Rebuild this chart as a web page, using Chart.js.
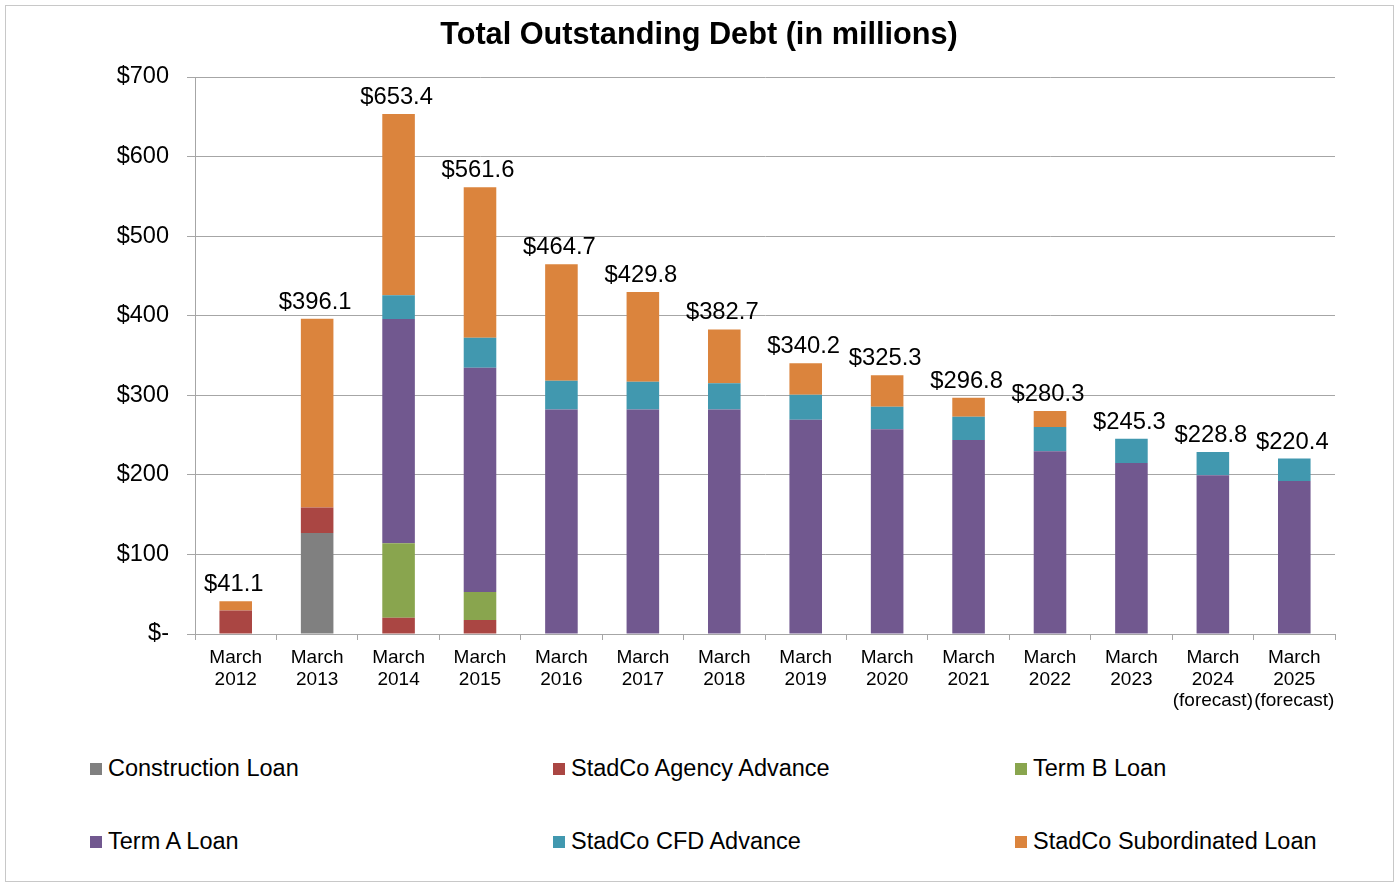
<!DOCTYPE html>
<html>
<head>
    <title>Total Outstanding Debt</title>
    <script src="https://cdn.jsdelivr.net/npm/chart.js@4.4.1/dist/chart.umd.min.js"></script>
    <style>
        body { margin: 0; background: #fff; font-family: "Liberation Sans", Arial, sans-serif; }
        #frame { position: absolute; left: 5px; top: 5px; width: 1387px; height: 875px; border: 1px solid #c8c8c8; }
        #wrap { position: absolute; left: 0; top: 0; width: 1398px; height: 720px; }
        .leg { position: absolute; font-size: 23.5px; color: #000; white-space: nowrap; line-height: 26px; }
        .leg span { display: inline-block; width: 12px; height: 12px; margin-right: 6px; vertical-align: 1px; }
    </style>
</head>
<body>
    <div id="frame"></div>
    <div id="wrap"><canvas id="debtChart"></canvas></div>
    <div id="legend"></div>

    <script>
        // categories
        var years = ['2012', '2013', '2014', '2015', '2016', '2017', '2018', '2019',
                     '2020', '2021', '2022', '2023', '2024', '2025'];
        var forecast = [false, false, false, false, false, false, false, false,
                        false, false, false, false, true, true];

        // series values ($ millions)
        var constructionLoan = [0, 127.0, 0, 0, 0, 0, 0, 0, 0, 0, 0, 0, 0, 0];
        var agencyAdvance    = [29.5, 32.0, 20.5, 17.6, 0, 0, 0, 0, 0, 0, 0, 0, 0, 0];
        var termBLoan        = [0, 0, 93.5, 35.2, 0, 0, 0, 0, 0, 0, 0, 0, 0, 0];
        var termALoan        = [0, 0, 282.0, 281.9, 282.0, 282.0, 282.0, 269.3, 257.2, 243.8, 229.6, 214.9, 199.4, 192.3];
        var cfdAdvance       = [0, 0, 29.7, 37.7, 36.4, 35.1, 33.0, 31.5, 28.5, 29.3, 30.5, 30.4, 29.4, 28.1];
        var subordinatedLoan = [11.6, 237.1, 227.7, 189.2, 146.3, 112.7, 67.7, 39.4, 39.6, 23.7, 20.2, 0, 0, 0];

        // printed totals above each bar
        var totals = [41.1, 396.1, 653.4, 561.6, 464.7, 429.8, 382.7, 340.2, 325.3, 296.8, 280.3, 245.3, 228.8, 220.4];

        var labels = years.map(function (y, i) {
            return forecast[i] ? ['March', y, '(forecast)'] : ['March', y];
        });

        var seriesNames = ['Construction Loan', 'StadCo Agency Advance', 'Term B Loan',
                           'Term A Loan', 'StadCo CFD Advance', 'StadCo Subordinated Loan'];
        var seriesData = [constructionLoan, agencyAdvance, termBLoan, termALoan, cfdAdvance, subordinatedLoan];
        var seriesColors = ['#808080', '#AA4643', '#89A54E', '#71588F', '#4198AF', '#DB843D'];

        var FONT = '"Liberation Sans", Arial, sans-serif';

        // title centred on the whole picture, plus totals above the bars
        var extras = {
            id: 'extras',
            afterDraw: function (chart) {
                var ctx = chart.ctx;
                ctx.save();
                ctx.fillStyle = '#000';
                ctx.textAlign = 'center';
                ctx.textBaseline = 'middle';
                ctx.font = 'bold 30.7px ' + FONT;
                ctx.fillText('Total Outstanding Debt (in millions)', 699, 36);

                ctx.font = '23.8px ' + FONT;
                ctx.textBaseline = 'alphabetic';
                var meta = chart.getDatasetMeta(0);
                for (var i = 0; i < totals.length; i++) {
                    var x = meta.data[i].x - 2;
                    var y = chart.scales.y.getPixelForValue(totals[i]);
                    ctx.fillText('$' + totals[i].toFixed(1), x, y - 10);
                }
                ctx.restore();
            }
        };

        var ctx = document.getElementById('debtChart').getContext('2d');
        var myChart = new Chart(ctx, {
            type: 'bar',
            data: {
                labels: labels,
                datasets: seriesNames.map(function (name, k) {
                    return {
                        label: name,
                        data: seriesData[k],
                        backgroundColor: seriesColors[k],
                        borderWidth: 0,
                        barPercentage: 0.4,
                        categoryPercentage: 1.0
                    };
                })
            },
            options: {
                responsive: true,
                maintainAspectRatio: false,
                animation: false,
                layout: { padding: { left: 0, right: 63, top: 77, bottom: 0 } },
                plugins: {
                    legend: { display: false },
                    tooltip: { enabled: false },
                    title: { display: false }
                },
                scales: {
                    x: {
                        stacked: true,
                        grid: { offset: true, drawOnChartArea: false, drawTicks: true, tickLength: 6, color: '#a6a6a6' },
                        border: { color: '#a6a6a6' },
                        ticks: { color: '#000', font: { family: FONT, size: 19, lineHeight: 1.14 }, padding: 7, maxRotation: 0, autoSkip: false },
                        afterFit: function (s) { s.height = 86; }
                    },
                    y: {
                        stacked: true,
                        min: 0,
                        max: 700,
                        grid: { color: '#a6a6a6', tickLength: 8 },
                        border: { color: '#a6a6a6' },
                        ticks: {
                            stepSize: 100,
                            color: '#000',
                            font: { family: FONT, size: 23.5 },
                            padding: 18,
                            callback: function (v) { return v === 0 ? '$-' : '$' + v; }
                        },
                        afterFit: function (s) { s.width = 195; }
                    }
                }
            },
            plugins: [extras]
        });

        // legend: two rows of three
        var legendPos = [[90, 768], [553, 768], [1015, 768], [90, 841], [553, 841], [1015, 841]];
        var legend = document.getElementById('legend');
        seriesNames.forEach(function (name, k) {
            var d = document.createElement('div');
            d.className = 'leg';
            d.style.left = legendPos[k][0] + 'px';
            d.style.top = (legendPos[k][1] - 13) + 'px';
            d.innerHTML = '<span style="background:' + seriesColors[k] + '"></span>' + name;
            legend.appendChild(d);
        });
    </script>
</body>
</html>
